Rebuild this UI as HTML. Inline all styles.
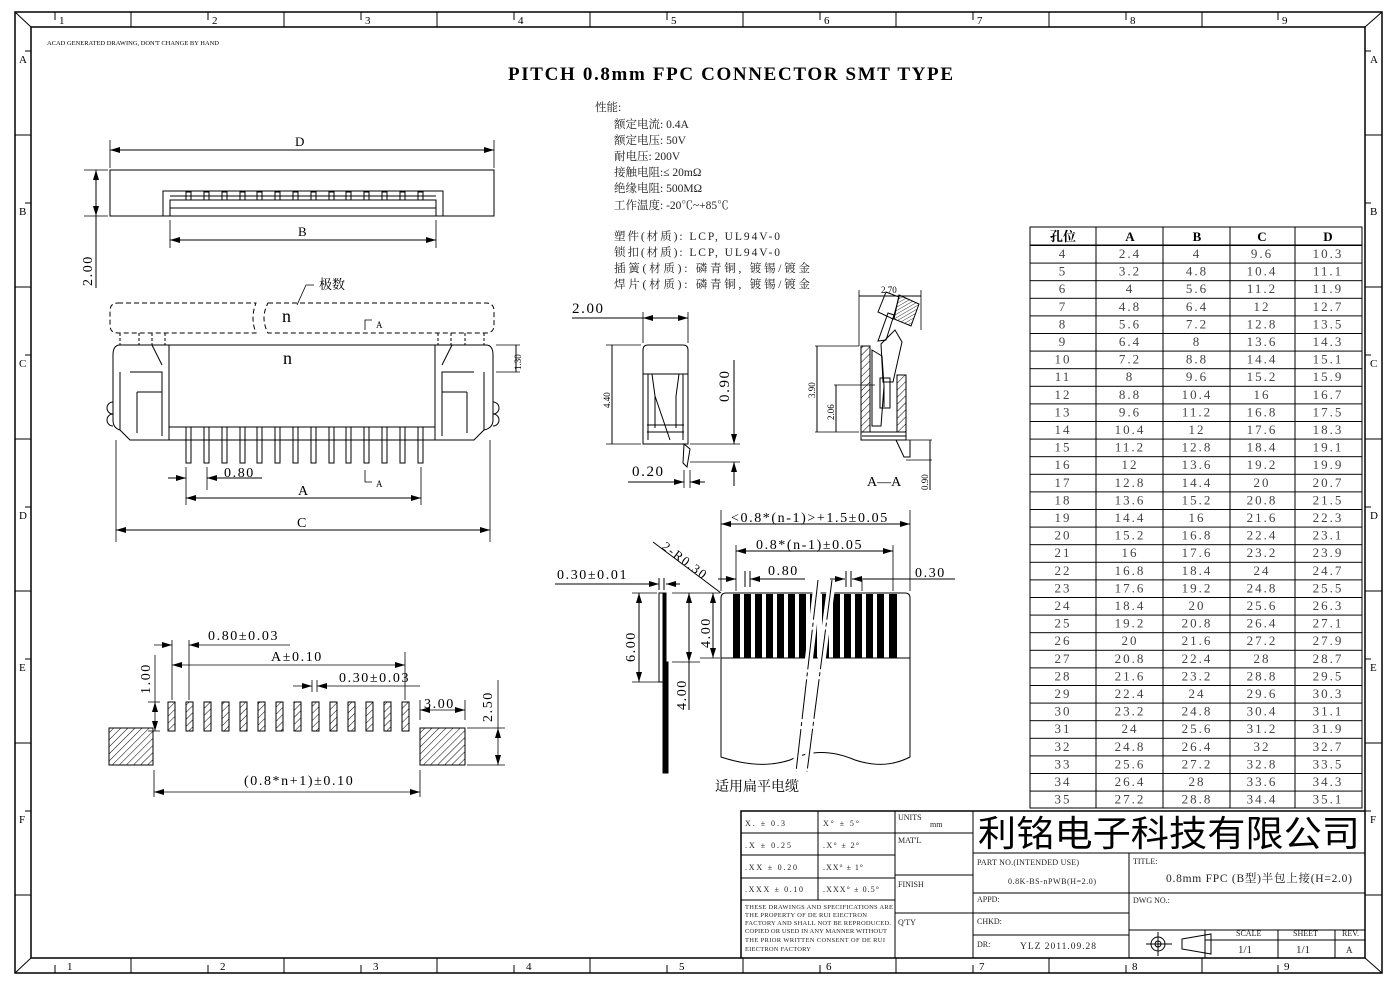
<!DOCTYPE html>
<html><head><meta charset="utf-8"><style>
html,body{margin:0;padding:0;background:#fff;}
svg{display:block;font-family:"Liberation Serif","Noto Serif CJK SC",serif;}
.d{letter-spacing:1.6px;}
.t text{letter-spacing:2px;}
</style></head><body>
<svg width="1397" height="986" viewBox="0 0 1397 986" xmlns="http://www.w3.org/2000/svg">
<defs>
<marker id="a" viewBox="0 0 10 6" refX="10" refY="3" markerWidth="10" markerHeight="6" orient="auto-start-reverse" markerUnits="userSpaceOnUse"><path d="M0,0 L10,3 L0,6 z" fill="#000"/></marker>
<pattern id="h" width="5" height="5" patternUnits="userSpaceOnUse" patternTransform="rotate(45)"><line x1="0" y1="0" x2="0" y2="5" stroke="#000" stroke-width="1"/></pattern>
<pattern id="h2" width="3" height="3" patternUnits="userSpaceOnUse" patternTransform="rotate(60)"><line x1="0" y1="0" x2="0" y2="3" stroke="#000" stroke-width="0.8"/></pattern>
<pattern id="rows" x="0" y="245" width="400" height="17.6" patternUnits="userSpaceOnUse"><line x1="0" y1="0.5" x2="400" y2="0.5" stroke="#000" stroke-width="1"/></pattern>
</defs>
<g fill="none" stroke="#000" stroke-width="1">
<rect x="15" y="12" width="1367" height="961" stroke-width="1.5"/>
<rect x="31" y="27" width="1334" height="931" stroke-width="1.5"/>
<line x1="15" y1="12" x2="31" y2="27"/><line x1="1382" y1="973" x2="1365" y2="958"/>
<line x1="1382" y1="12" x2="1365" y2="27"/><line x1="15" y1="973" x2="31" y2="958"/>
<path d="M131,12V27M284,12V27M437,12V27M590,12V27M743,12V27M896,12V27M1049,12V27M1202,12V27
M131,958V973M284,958V973M437,958V973M590,958V973M743,958V973M896,958V973M1049,958V973M1202,958V973
M15,135H31M15,287H31M15,439H31M15,591H31M15,743H31M15,895H31
M1365,135H1382M1365,287H1382M1365,439H1382M1365,591H1382M1365,743H1382M1365,895H1382
M55,12V20M208,12V20M361,12V20M514,12V20M667,12V20M820,12V20M973,12V20M1126,12V20M1278,12V20
M55,965V973M208,965V973M361,965V973M514,965V973M667,965V973M820,965V973M973,965V973M1126,965V973M1278,965V973
M25,51H31M25,203H31M25,355H31M25,507H31M25,659H31M25,811H31
M1365,51H1371M1365,203H1371M1365,355H1371M1365,507H1371M1365,659H1371M1365,811H1371"/>
</g>
<g font-size="11" fill="#000">
<text x="59" y="24">1</text><text x="212" y="24">2</text><text x="365" y="24">3</text><text x="518" y="24">4</text><text x="671" y="24">5</text><text x="824" y="24">6</text><text x="977" y="24">7</text><text x="1130" y="24">8</text><text x="1282" y="24">9</text>
<text x="67" y="970">1</text><text x="220" y="970">2</text><text x="373" y="970">3</text><text x="526" y="970">4</text><text x="679" y="970">5</text><text x="826" y="970">6</text><text x="979" y="970">7</text><text x="1132" y="970">8</text><text x="1284" y="970">9</text>
<text x="19" y="63">A</text><text x="19" y="215">B</text><text x="19" y="367">C</text><text x="19" y="519">D</text><text x="19" y="671">E</text><text x="19" y="823">F</text>
<text x="1370" y="63">A</text><text x="1370" y="215">B</text><text x="1370" y="367">C</text><text x="1370" y="519">D</text><text x="1370" y="671">E</text><text x="1370" y="823">F</text>
</g>
<text x="47" y="45" font-size="6.5" textLength="172">ACAD GENERATED DRAWING, DON'T CHANGE BY HAND</text>
<text x="508" y="80" font-size="19" font-weight="bold" textLength="445" lengthAdjust="spacing">PITCH 0.8mm FPC CONNECTOR SMT TYPE</text>

<g font-size="11.5" fill="#222">
<text x="595" y="111">性能:</text>
<text x="614" y="128">额定电流: 0.4A</text>
<text x="614" y="144">额定电压: 50V</text>
<text x="614" y="160">耐电压: 200V</text>
<text x="614" y="176">接触电阻:≤ 20mΩ</text>
<text x="614" y="192">绝缘电阻: 500MΩ</text>
<text x="614" y="209">工作温度: -20℃~+85℃</text>
<text x="614" y="240" textLength="166">塑件(材质): LCP, UL94V-0</text>
<text x="614" y="256" textLength="166">锁扣(材质): LCP, UL94V-0</text>
<text x="614" y="272" textLength="196">插簧(材质): 磷青铜, 镀锡/镀金</text>
<text x="614" y="288" textLength="196">焊片(材质): 磷青铜, 镀锡/镀金</text>
</g>

<g fill="none" stroke="#000">
<rect x="110" y="170" width="384" height="46"/>
<path d="M163,216V191H443V216M170,216V200H436V216M170,208H436M170,196H436"/>
<path d="M186,192h5v8h-5zM204,192h5v8h-5zM222,192h5v8h-5zM240,192h5v8h-5zM257,192h5v8h-5zM275,192h5v8h-5zM293,192h5v8h-5zM311,192h5v8h-5zM329,192h5v8h-5zM346,192h5v8h-5zM364,192h5v8h-5zM382,192h5v8h-5zM400,192h5v8h-5zM418,192h5v8h-5z"/>
<path d="M110,140V168M494,140V168M170,220V248M436,220V248M84,170H108M84,216H108" stroke-width="0.8"/>
<line x1="110" y1="150" x2="494" y2="150" marker-start="url(#a)" marker-end="url(#a)"/>
<line x1="170" y1="240" x2="436" y2="240" marker-start="url(#a)" marker-end="url(#a)"/>
<line x1="96" y1="170" x2="96" y2="216" marker-start="url(#a)" marker-end="url(#a)"/>
<line x1="96" y1="216" x2="96" y2="288"/>
</g>
<text x="295" y="146" font-size="13">D</text>
<text x="298" y="236" font-size="13">B</text>
<text class="d" x="0" y="0" font-size="14" transform="translate(92,286) rotate(-90)">2.00</text>

<g fill="none" stroke="#000">
<path d="M118,303H256Q250,318 256,333H118Q110,333 110,325V311Q110,303 118,303Z" stroke-dasharray="5,3"/>
<path d="M268,303H486Q494,303 494,311V325Q494,333 486,333H268Q260,318 268,303Z" stroke-dasharray="5,3"/>
<path d="M120,333v12M139,333v12M152,333v12M165,333v12M438,333v12M451,333v12M465,333v12M484,333v12" stroke-dasharray="3,2"/>
<path d="M120,345H169V440H130L120,430Q113,428 113,420V355Q113,345 120,345Z"/>
<path d="M486,345H435V440H474L484,430Q493,428 493,420V355Q493,345 486,345Z"/>
<line x1="169" y1="345" x2="435" y2="345"/>
<path d="M169,427H435M169,440H435"/>
<path d="M130,372H162V436M474,372H442V436M137,392H162M467,392H442M137,392V433M467,392V433M120,372V430M484,372V430M152,345l10,20M452,345l-10,20"/>
<path d="M113,402a6,6 0 0,0 0,12a6,6 0 0,0 0,12M493,402a6,6 0 0,1 0,12a6,6 0 0,1 0,12"/>
<path d="M186,427h5v36h-5zM204,427h5v36h-5zM222,427h5v36h-5zM240,427h5v36h-5zM257,427h5v36h-5zM275,427h5v36h-5zM293,427h5v36h-5zM311,427h5v36h-5zM329,427h5v36h-5zM346,427h5v36h-5zM364,427h5v36h-5zM382,427h5v36h-5zM400,427h5v36h-5zM418,427h5v36h-5z"/>
<path d="M186,467V505M207,467V490M421,467V505M116,440V542M490,440V542M365,470V482H372M365,330V320H372M297,305L306,285H314" stroke-width="0.8"/>
<path d="M496,345H520M496,372H520" stroke-width="0.8"/>
<line x1="168" y1="478" x2="186" y2="478" marker-end="url(#a)"/><line x1="262" y1="478" x2="207" y2="478" marker-end="url(#a)"/>
<line x1="186" y1="498" x2="421" y2="498" marker-start="url(#a)" marker-end="url(#a)"/>
<line x1="116" y1="530" x2="490" y2="530" marker-start="url(#a)" marker-end="url(#a)"/>
<line x1="516" y1="345" x2="516" y2="372"/>
</g>
<text x="319" y="289" font-size="13">极数</text>
<text x="282" y="322" font-size="18">n</text>
<text x="283" y="364" font-size="18">n</text>
<text x="376" y="328" font-size="9">A</text>
<text x="376" y="487" font-size="9">A</text>
<text class="d" x="224" y="477" font-size="14">0.80</text>
<text x="298" y="495" font-size="14">A</text>
<text x="297" y="527" font-size="14">C</text>
<text x="0" y="0" font-size="9" transform="translate(521,370) rotate(-90)">1.30</text>

<g fill="none" stroke="#000">
<path d="M643,444V350Q643,345 648,345H683Q688,345 688,350V444Z"/>
<path d="M643,374H688M648,374V440M683,374V440M652,374l3,22V428M679,374l-3,22V428M655,396l15,44M647,425H684M647,432H684M650,444H685"/>
<path d="M684,444l6,5l-3,18l-4,-4Z"/>
<path d="M643,312V343M688,312V343M606,345H641M606,444H641M690,444H740M690,462H740M690,470V488M684,470V488" stroke-width="0.8"/>
<line x1="572" y1="318" x2="643" y2="318"/>
<line x1="643" y1="318" x2="688" y2="318" marker-start="url(#a)" marker-end="url(#a)"/>
<line x1="612" y1="345" x2="612" y2="444"/>
<line x1="734" y1="420" x2="734" y2="444" marker-end="url(#a)"/><line x1="734" y1="486" x2="734" y2="462" marker-end="url(#a)"/>
<line x1="734" y1="360" x2="734" y2="420"/>
<line x1="628" y1="482" x2="684" y2="482" marker-end="url(#a)"/><line x1="705" y1="482" x2="690" y2="482" marker-end="url(#a)"/>
</g>
<text class="d" x="572" y="313" font-size="15">2.00</text>
<text x="0" y="0" font-size="9" transform="translate(610,408) rotate(-90)">4.40</text>
<text class="d" x="0" y="0" font-size="15" transform="translate(729,402) rotate(-90)">0.90</text>
<text class="d" x="632" y="476" font-size="15">0.20</text>

<g fill="none" stroke="#000">
<rect x="861" y="346" width="9" height="86" fill="url(#h)"/>
<rect x="897" y="375" width="9" height="57" fill="url(#h)"/>
<path d="M872,350l10,6l2,30l-3,40H872ZM886,340l8,-25l-6,-2l-10,28Z"/>
<path d="M878,312l8,-20l13,5l-6,22Z"/>
<path d="M899,295l20,9l-8,22l-17,-7Z" fill="url(#h2)"/>
<path d="M881,344L895,330L902,342L893,382H883Z"/>
<path d="M880,378h10v30h-10zM884,385v22"/>
<rect x="861" y="432" width="45" height="8"/>
<path d="M862,436h44"/>
<path d="M896,440l8,17h6V440"/>
<path d="M859,290V346M921,290V330M815,346H859M834,385H875M815,432H859M906,440H932M906,460H932" stroke-width="0.8"/>
<line x1="859" y1="296" x2="921" y2="296"/>
<line x1="817" y1="346" x2="817" y2="432"/>
<line x1="836" y1="385" x2="836" y2="432"/>
<line x1="930" y1="440" x2="930" y2="490"/>
</g>
<text x="881" y="293" font-size="9">2.70</text>
<text x="0" y="0" font-size="9" transform="translate(815,398) rotate(-90)">3.90</text>
<text x="0" y="0" font-size="9" transform="translate(834,420) rotate(-90)">2.06</text>
<text x="0" y="0" font-size="9" transform="translate(928,490) rotate(-90)">0.90</text>
<text x="867" y="486" font-size="14">A—A</text>

<g fill="none" stroke="#000">
<path d="M659,593h5v89h-5z"/>
<rect x="663" y="593" width="3" height="180" fill="#000"/>
<path d="M666,662h2v111h-2z" fill="#000"/>
<path d="M721,757V598Q721,593 726,593H905Q910,593 910,598V757Q885,770 855,760Q820,745 790,760Q760,770 721,757Z"/>
<line x1="721" y1="658" x2="910" y2="658"/>
<g fill="#000" stroke="none">
<rect x="733" y="594" width="7" height="64"/><rect x="744" y="594" width="7" height="64"/><rect x="755" y="594" width="7" height="64"/><rect x="766" y="594" width="7" height="64"/><rect x="777" y="594" width="7" height="64"/><rect x="788" y="594" width="7" height="64"/><rect x="799" y="594" width="7" height="64"/><rect x="810" y="594" width="7" height="64"/><rect x="822" y="594" width="7" height="64"/><rect x="833" y="594" width="7" height="64"/><rect x="844" y="594" width="7" height="64"/><rect x="855" y="594" width="7" height="64"/><rect x="866" y="594" width="7" height="64"/><rect x="877" y="594" width="7" height="64"/><rect x="889" y="594" width="8" height="64"/>
</g>
<path d="M818,580L796,772M832,580L807,772" stroke="#fff" stroke-width="8"/>
<path d="M818,580L796,772M832,580L807,772" stroke-dasharray="40,3,4,3"/>
<path d="M721,510V591M910,510V591M736,545V591M893,545V591M862,580V591" stroke-width="0.8"/>
<line x1="721" y1="524" x2="910" y2="524" marker-start="url(#a)" marker-end="url(#a)"/>
<line x1="736" y1="551" x2="893" y2="551" marker-start="url(#a)" marker-end="url(#a)"/>
<line x1="718" y1="579" x2="736" y2="579" marker-end="url(#a)"/><line x1="805" y1="579" x2="750" y2="579" marker-end="url(#a)"/>
<line x1="745" y1="571" x2="745" y2="587"/><line x1="750" y1="571" x2="750" y2="587"/>
<line x1="830" y1="579" x2="845" y2="579" marker-end="url(#a)"/><line x1="955" y1="579" x2="852" y2="579" marker-end="url(#a)"/>
<line x1="846" y1="571" x2="846" y2="587"/><line x1="851" y1="571" x2="851" y2="587"/>
<line x1="653" y1="542" x2="721" y2="593"/>
<line x1="555" y1="584" x2="659" y2="584" marker-end="url(#a)"/><line x1="680" y1="584" x2="666" y2="584" marker-end="url(#a)"/>
<line x1="659" y1="578" x2="659" y2="590"/><line x1="664" y1="578" x2="664" y2="590"/>
<path d="M632,593H657M632,682H660M672,593H700M672,662H700M700,593H720M700,658H720" stroke-width="0.8"/>
<line x1="639" y1="593" x2="639" y2="682" marker-start="url(#a)" marker-end="url(#a)"/>
<line x1="689" y1="593" x2="689" y2="662" marker-start="url(#a)" marker-end="url(#a)"/>
<line x1="689" y1="662" x2="689" y2="710"/>
<line x1="713" y1="593" x2="713" y2="658" marker-start="url(#a)" marker-end="url(#a)"/>
</g>
<text class="d" x="731" y="522" font-size="14">&lt;0.8*(n-1)&gt;+1.5±0.05</text>
<text class="d" x="756" y="549" font-size="14">0.8*(n-1)±0.05</text>
<text class="d" x="768" y="575" font-size="14">0.80</text>
<text class="d" x="915" y="577" font-size="14">0.30</text>
<text class="d" x="557" y="579" font-size="14">0.30±0.01</text>
<text class="d" x="0" y="0" font-size="13" transform="translate(661,548) rotate(37)">2-R0.30</text>
<text class="d" x="0" y="0" font-size="14" transform="translate(635,662) rotate(-90)">6.00</text>
<text class="d" x="0" y="0" font-size="14" transform="translate(710,648) rotate(-90)">4.00</text>
<text class="d" x="0" y="0" font-size="14" transform="translate(686,710) rotate(-90)">4.00</text>
<text x="715" y="791" font-size="14">适用扁平电缆</text>

<g stroke="#000">
<g fill="url(#h)">
<rect x="109" y="728" width="44" height="37"/><rect x="420" y="728" width="45" height="37"/>
<rect x="168" y="702" width="7" height="29"/><rect x="186" y="702" width="7" height="29"/><rect x="204" y="702" width="7" height="29"/><rect x="222" y="702" width="7" height="29"/><rect x="240" y="702" width="7" height="29"/><rect x="258" y="702" width="7" height="29"/><rect x="276" y="702" width="7" height="29"/><rect x="294" y="702" width="7" height="29"/><rect x="312" y="702" width="7" height="29"/><rect x="330" y="702" width="7" height="29"/><rect x="348" y="702" width="7" height="29"/><rect x="366" y="702" width="7" height="29"/><rect x="384" y="702" width="7" height="29"/><rect x="402" y="702" width="7" height="29"/>
</g>
<g fill="none" stroke-width="0.8">
<path d="M172,640V700M189,640V700M405,652V700M312,680V692M317,680V692M420,700V720M465,700V720M154,770V797M420,770V797M467,728H505M467,765H505M148,702H160M148,731H160"/>
<line x1="154" y1="645" x2="172" y2="645" marker-end="url(#a)"/><line x1="290" y1="645" x2="189" y2="645" marker-end="url(#a)"/>
<line x1="172" y1="665" x2="405" y2="665" marker-start="url(#a)" marker-end="url(#a)"/>
<line x1="293" y1="686" x2="312" y2="686" marker-end="url(#a)"/><line x1="420" y1="686" x2="317" y2="686" marker-end="url(#a)"/>
<line x1="154" y1="792" x2="420" y2="792" marker-start="url(#a)" marker-end="url(#a)"/>
<line x1="420" y1="710" x2="465" y2="710" marker-start="url(#a)" marker-end="url(#a)"/>
<line x1="155" y1="655" x2="155" y2="702" /><line x1="155" y1="702" x2="155" y2="731" marker-start="url(#a)" marker-end="url(#a)"/>
<line x1="498" y1="680" x2="498" y2="728"/><line x1="498" y1="728" x2="498" y2="765" marker-start="url(#a)" marker-end="url(#a)"/>
</g>
</g>
<text class="d" x="208" y="640" font-size="14">0.80±0.03</text>
<text class="d" x="271" y="661" font-size="14">A±0.10</text>
<text class="d" x="339" y="682" font-size="14">0.30±0.03</text>
<text class="d" x="424" y="708" font-size="14">3.00</text>
<text class="d" x="0" y="0" font-size="14" transform="translate(150,694) rotate(-90)">1.00</text>
<text class="d" x="0" y="0" font-size="14" transform="translate(492,722) rotate(-90)">2.50</text>
<text class="d" x="244" y="785" font-size="14">(0.8*n+1)±0.10</text>

<g fill="none" stroke="#000">
<rect x="1030" y="245" width="332" height="563" fill="url(#rows)" stroke="none"/>
<rect x="1030" y="227" width="332" height="581"/>
<line x1="1030" y1="245" x2="1362" y2="245"/>
<path d="M1096,227V808M1163,227V808M1230,227V808M1295,227V808"/>
</g>
<g font-size="13" font-weight="bold" text-anchor="middle"><text x="1063" y="241">孔位</text><text x="1130" y="241">A</text><text x="1197" y="241">B</text><text x="1262" y="241">C</text><text x="1328" y="241">D</text></g>
<g class="t" font-size="13" fill="#444" text-anchor="middle">
<g transform="translate(0,258)"><text x="1063">4</text><text x="1130">2.4</text><text x="1197">4</text><text x="1262">9.6</text><text x="1328">10.3</text></g>
<g transform="translate(0,275.6)"><text x="1063">5</text><text x="1130">3.2</text><text x="1197">4.8</text><text x="1262">10.4</text><text x="1328">11.1</text></g>
<g transform="translate(0,293.2)"><text x="1063">6</text><text x="1130">4</text><text x="1197">5.6</text><text x="1262">11.2</text><text x="1328">11.9</text></g>
<g transform="translate(0,310.8)"><text x="1063">7</text><text x="1130">4.8</text><text x="1197">6.4</text><text x="1262">12</text><text x="1328">12.7</text></g>
<g transform="translate(0,328.4)"><text x="1063">8</text><text x="1130">5.6</text><text x="1197">7.2</text><text x="1262">12.8</text><text x="1328">13.5</text></g>
<g transform="translate(0,346)"><text x="1063">9</text><text x="1130">6.4</text><text x="1197">8</text><text x="1262">13.6</text><text x="1328">14.3</text></g>
<g transform="translate(0,363.6)"><text x="1063">10</text><text x="1130">7.2</text><text x="1197">8.8</text><text x="1262">14.4</text><text x="1328">15.1</text></g>
<g transform="translate(0,381.2)"><text x="1063">11</text><text x="1130">8</text><text x="1197">9.6</text><text x="1262">15.2</text><text x="1328">15.9</text></g>
<g transform="translate(0,398.8)"><text x="1063">12</text><text x="1130">8.8</text><text x="1197">10.4</text><text x="1262">16</text><text x="1328">16.7</text></g>
<g transform="translate(0,416.4)"><text x="1063">13</text><text x="1130">9.6</text><text x="1197">11.2</text><text x="1262">16.8</text><text x="1328">17.5</text></g>
<g transform="translate(0,434)"><text x="1063">14</text><text x="1130">10.4</text><text x="1197">12</text><text x="1262">17.6</text><text x="1328">18.3</text></g>
<g transform="translate(0,451.6)"><text x="1063">15</text><text x="1130">11.2</text><text x="1197">12.8</text><text x="1262">18.4</text><text x="1328">19.1</text></g>
<g transform="translate(0,469.2)"><text x="1063">16</text><text x="1130">12</text><text x="1197">13.6</text><text x="1262">19.2</text><text x="1328">19.9</text></g>
<g transform="translate(0,486.8)"><text x="1063">17</text><text x="1130">12.8</text><text x="1197">14.4</text><text x="1262">20</text><text x="1328">20.7</text></g>
<g transform="translate(0,504.4)"><text x="1063">18</text><text x="1130">13.6</text><text x="1197">15.2</text><text x="1262">20.8</text><text x="1328">21.5</text></g>
<g transform="translate(0,522)"><text x="1063">19</text><text x="1130">14.4</text><text x="1197">16</text><text x="1262">21.6</text><text x="1328">22.3</text></g>
<g transform="translate(0,539.6)"><text x="1063">20</text><text x="1130">15.2</text><text x="1197">16.8</text><text x="1262">22.4</text><text x="1328">23.1</text></g>
<g transform="translate(0,557.2)"><text x="1063">21</text><text x="1130">16</text><text x="1197">17.6</text><text x="1262">23.2</text><text x="1328">23.9</text></g>
<g transform="translate(0,574.8)"><text x="1063">22</text><text x="1130">16.8</text><text x="1197">18.4</text><text x="1262">24</text><text x="1328">24.7</text></g>
<g transform="translate(0,592.4)"><text x="1063">23</text><text x="1130">17.6</text><text x="1197">19.2</text><text x="1262">24.8</text><text x="1328">25.5</text></g>
<g transform="translate(0,610)"><text x="1063">24</text><text x="1130">18.4</text><text x="1197">20</text><text x="1262">25.6</text><text x="1328">26.3</text></g>
<g transform="translate(0,627.6)"><text x="1063">25</text><text x="1130">19.2</text><text x="1197">20.8</text><text x="1262">26.4</text><text x="1328">27.1</text></g>
<g transform="translate(0,645.2)"><text x="1063">26</text><text x="1130">20</text><text x="1197">21.6</text><text x="1262">27.2</text><text x="1328">27.9</text></g>
<g transform="translate(0,662.8)"><text x="1063">27</text><text x="1130">20.8</text><text x="1197">22.4</text><text x="1262">28</text><text x="1328">28.7</text></g>
<g transform="translate(0,680.4)"><text x="1063">28</text><text x="1130">21.6</text><text x="1197">23.2</text><text x="1262">28.8</text><text x="1328">29.5</text></g>
<g transform="translate(0,698)"><text x="1063">29</text><text x="1130">22.4</text><text x="1197">24</text><text x="1262">29.6</text><text x="1328">30.3</text></g>
<g transform="translate(0,715.6)"><text x="1063">30</text><text x="1130">23.2</text><text x="1197">24.8</text><text x="1262">30.4</text><text x="1328">31.1</text></g>
<g transform="translate(0,733.2)"><text x="1063">31</text><text x="1130">24</text><text x="1197">25.6</text><text x="1262">31.2</text><text x="1328">31.9</text></g>
<g transform="translate(0,750.8)"><text x="1063">32</text><text x="1130">24.8</text><text x="1197">26.4</text><text x="1262">32</text><text x="1328">32.7</text></g>
<g transform="translate(0,768.4)"><text x="1063">33</text><text x="1130">25.6</text><text x="1197">27.2</text><text x="1262">32.8</text><text x="1328">33.5</text></g>
<g transform="translate(0,786)"><text x="1063">34</text><text x="1130">26.4</text><text x="1197">28</text><text x="1262">33.6</text><text x="1328">34.3</text></g>
<g transform="translate(0,803.6)"><text x="1063">35</text><text x="1130">27.2</text><text x="1197">28.8</text><text x="1262">34.4</text><text x="1328">35.1</text></g>
</g>

<g fill="none" stroke="#000">
<path d="M741,958V811H1365" stroke-width="1.5"/>
<path d="M741,833H895M741,855H895M741,878H895M741,900H895M818,811V900M895,811V958M973,811V958M895,833H973M895,875H973M895,913H973
M973,853H1365M973,893H1365M973,913H1129M973,935H1129M1129,853V958M1129,930H1365M1205,930V958M1205,940H1365M1278,930V958M1335,930V958"/>
<circle cx="1158" cy="944" r="7"/><circle cx="1158" cy="944" r="3"/><path d="M1146,944H1172M1158,932V956M1182,939L1211,934V954L1182,949Z"/>
</g>
<g font-size="8" fill="#222">
<text x="745" y="826" textLength="40">X. ± 0.3</text><text x="823" y="826" textLength="36">X° ± 5°</text>
<text x="745" y="848" textLength="46">.X ± 0.25</text><text x="823" y="848" textLength="36">.X° ± 2°</text>
<text x="745" y="870" textLength="52">.XX ± 0.20</text><text x="823" y="870" textLength="40">.XX° ± 1°</text>
<text x="745" y="892" textLength="58">.XXX ± 0.10</text><text x="823" y="892" textLength="56">.XXX° ± 0.5°</text>
<text x="745" y="909" font-size="6.5" textLength="148">THESE DRAWINGS AND SPECIFICATIONS ARE</text>
<text x="745" y="917" font-size="6.5" textLength="122">THE PROPERTY OF DE RUI EIECTRON</text>
<text x="745" y="925" font-size="6.5" textLength="146">FACTORY AND SHALL NOT BE REPRODUCED.</text>
<text x="745" y="933" font-size="6.5" textLength="142">COPIED OR USED IN ANY MANNER WITHOUT</text>
<text x="745" y="942" font-size="6.5" textLength="140">THE PRIOR WRITTEN CONSENT OF DE RUI</text>
<text x="745" y="951" font-size="6.5" textLength="66">EIECTRON FACTORY</text>
<text x="898" y="820">UNITS</text><text x="930" y="827">mm</text>
<text x="898" y="843">MAT'L</text><text x="898" y="887">FINISH</text><text x="898" y="925">Q'TY</text>
<text x="977" y="865" textLength="102">PART NO.(INTENDED USE)</text>
<text x="1008" y="884" textLength="88">0.8K-BS-nPWB(H=2.0)</text>
<text x="977" y="902">APPD:</text><text x="977" y="924">CHKD:</text>
<text x="977" y="947">DR:</text><text x="1020" y="949" font-size="9.5" textLength="76">YLZ 2011.09.28</text>
<text x="1133" y="864">TITLE:</text><text x="1133" y="903">DWG NO.:</text>
<text x="1236" y="936">SCALE</text><text x="1293" y="936">SHEET</text><text x="1342" y="936">REV.</text>
<text x="1238" y="953" font-size="11">1/1</text><text x="1296" y="953" font-size="11">1/1</text><text x="1346" y="953" font-size="9">A</text>
</g>
<text x="1166" y="882" font-size="11.5" fill="#222" textLength="186">0.8mm FPC (B型)半包上接(H=2.0)</text>
<text x="978" y="846" font-size="36" font-family="'Noto Sans CJK SC',sans-serif" textLength="382" lengthAdjust="spacingAndGlyphs">利铭电子科技有限公司</text>
</svg>
</body></html>
